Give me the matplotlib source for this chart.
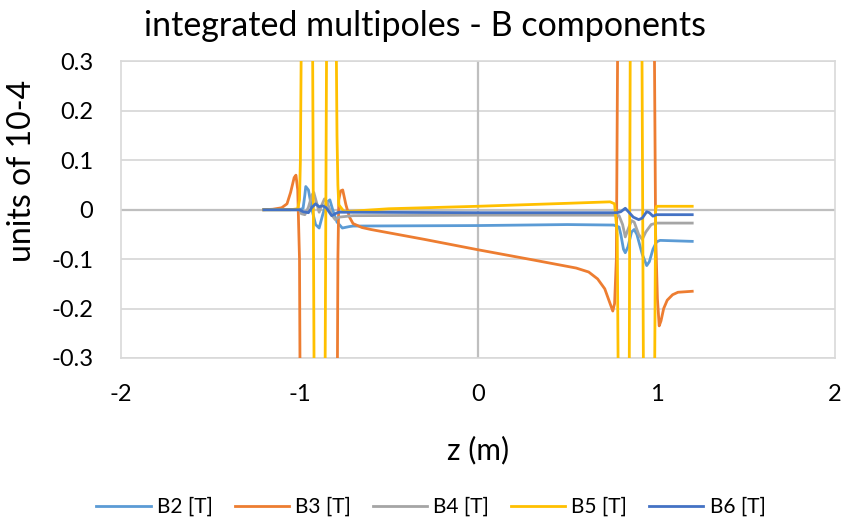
import matplotlib.pyplot as plt

plt.rcParams['font.family'] = ['Lato', 'DejaVu Sans']

# B2 [T]
z_b2 = [-1.20, -1.00, -0.98, -0.97, -0.965, -0.95, -0.93, -0.91, -0.89, -0.87, -0.85,
        -0.83, -0.81, -0.79, -0.76, -0.72, -0.70, 0.00, 0.50, 0.76, 0.79, 0.80,
        0.815, 0.825, 0.84, 0.86, 0.875, 0.89, 0.92, 0.945, 0.96, 0.98, 1.00,
        1.02, 1.20]
b2 = [0.000, 0.000, 0.003, 0.030, 0.047, 0.040, 0.000, -0.030, -0.037, -0.010, 0.014,
      0.020, -0.005, -0.025, -0.037, -0.034, -0.033, -0.032, -0.030, -0.031, -0.035, -0.050,
      -0.080, -0.087, -0.075, -0.045, -0.040, -0.050, -0.090, -0.113, -0.105, -0.080, -0.065,
      -0.062, -0.064]

# B3 [T]
z_b3 = [-1.20, -1.15, -1.10, -1.07, -1.05, -1.03, -1.02, -1.01, -1.00, -0.995, -0.79,
        -0.785, -0.78, -0.77, -0.758, -0.74, -0.72, -0.70, -0.65, -0.60, -0.30, 0.00,
        0.30, 0.55, 0.62, 0.67, 0.71, 0.74, 0.755, 0.765, 0.775, 0.785, 0.985,
        0.995, 1.005, 1.015, 1.025, 1.04, 1.06, 1.09, 1.12, 1.20]
b3 = [0.000, 0.001, 0.004, 0.012, 0.035, 0.065, 0.070, 0.040, -0.100, -0.500, -0.500,
      -0.100, 0.020, 0.038, 0.040, 0.010, -0.015, -0.028, -0.036, -0.040, -0.060, -0.081,
      -0.101, -0.118, -0.126, -0.140, -0.160, -0.190, -0.205, -0.190, -0.100, 0.500, 0.500,
      -0.050, -0.180, -0.235, -0.225, -0.200, -0.183, -0.172, -0.167, -0.165]

# B4 [T]
z_b4 = [-1.20, -1.00, -0.99, -0.97, -0.95, -0.93, -0.92, -0.905, -0.89, -0.875, -0.86,
        -0.845, -0.82, -0.80, -0.78, -0.70, 0.00, 0.76, 0.79, 0.81, 0.825, 0.84,
        0.86, 0.875, 0.90, 0.92, 0.94, 0.97, 1.00, 1.20]
b4 = [0.000, 0.000, -0.008, -0.010, 0.005, 0.030, 0.035, 0.015, -0.005, 0.010, 0.022,
      0.015, -0.010, -0.020, -0.015, -0.012, -0.011, -0.011, -0.012, -0.030, -0.055, -0.040,
      -0.022, -0.025, -0.050, -0.060, -0.045, -0.030, -0.027, -0.027]

# B5 [T]
z_b5 = [-1.20, -1.05, -1.01, -1.00, -0.995, -0.993, -0.985, -0.93, -0.915, -0.86, -0.845,
        -0.80, -0.79, -0.785, -0.78, -0.75, -0.50, 0.00, 0.50, 0.74, 0.765, 0.78,
        0.79, 0.845, 0.855, 0.915, 0.93, 0.985, 0.995, 1.00, 1.20]
b5 = [0.000, 0.000, 0.002, 0.020, 0.100, 0.200, 0.600, 0.600, -0.600, -0.600, 0.600,
      0.600, 0.150, 0.050, 0.010, -0.004, 0.002, 0.007, 0.013, 0.016, 0.012, -0.050,
      -0.600, -0.600, 0.600, 0.600, -0.600, -0.600, 0.000, 0.007, 0.007]

# B6 [T]
z_b6 = [-1.20, -1.00, -0.98, -0.95, -0.93, -0.91, -0.89, -0.87, -0.85, -0.82, -0.80,
        -0.78, 0.00, 0.78, 0.80, 0.825, 0.845, 0.87, 0.90, 0.92, 0.945, 0.96,
        0.98, 1.00, 1.20]
b6 = [0.000, 0.000, -0.004, -0.006, 0.005, 0.012, 0.006, 0.008, 0.004, -0.012, -0.008,
      -0.005, -0.006, -0.006, -0.004, 0.003, -0.005, -0.015, -0.020, -0.017, -0.004, -0.006,
      -0.013, -0.010, -0.010]

series = [
    (z_b2, b2, 'B2 [T]', '#5B9BD5'),
    (z_b3, b3, 'B3 [T]', '#ED7D31'),
    (z_b4, b4, 'B4 [T]', '#A5A5A5'),
    (z_b5, b5, 'B5 [T]', '#FFC000'),
    (z_b6, b6, 'B6 [T]', '#4472C4'),
]

fig = plt.figure(figsize=(8.45, 5.22), dpi=100)
ax = fig.add_axes([0.1432, 0.3142, 0.845, 0.568])

ax.set_yticks([-0.3, -0.2, -0.1, 0, 0.1, 0.2, 0.3])
ax.yaxis.grid(True, color='#D9D9D9', linewidth=1.3)
ax.set_axisbelow(True)
ax.axhline(0, color='#BFBFBF', linewidth=1.6, zorder=1)
ax.axvline(0, color='#BFBFBF', linewidth=1.6, zorder=1)

for z, v, name, col in series:
    ax.plot(z, v, color=col, linewidth=2.0, label=name, zorder=3)

ax.set_xlim(-2, 2)
ax.set_ylim(-0.3, 0.3)
ax.set_xticks([-2, -1, 0, 1, 2])
ax.set_xticklabels(['-2', '-1', '0', '1', '2'])
ax.set_yticklabels(['-0.3', '-0.2', '-0.1', '0', '0.1', '0.2', '0.3'])
for s in ax.spines.values():
    s.set_color('#D9D9D9')
    s.set_linewidth(1.2)
ax.tick_params(length=0, labelsize=17, colors='#000000')
ax.tick_params(axis='x', pad=19)
ax.tick_params(axis='y', pad=20)

fig.text(0.503, 0.95, 'integrated multipoles - B components', fontsize=24.5,
         ha='center', va='center')
ax.set_xlabel('z (m)', fontsize=21.5, labelpad=22)
ax.set_ylabel('units of 10-4', fontsize=23)
ax.yaxis.set_label_coords(-0.118, 0.63)

fig.legend(loc='center', bbox_to_anchor=(0.51, 0.029), ncol=5, frameon=False,
           fontsize=15, handlelength=2.6, columnspacing=1.05, handletextpad=0.3)

plt.savefig('out.png', dpi=100)
